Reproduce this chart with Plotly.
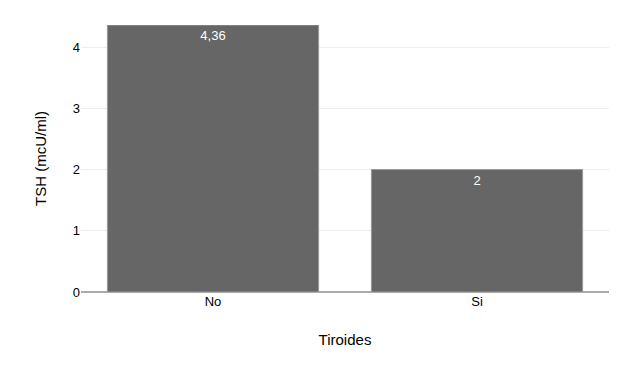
import plotly.graph_objects as go

categories = ["No", "Si"]
values = [4.36, 2]
labels = ["4,36", "2"]

fig = go.Figure(go.Bar(
    x=categories, y=values, text=labels,
    textposition="inside", insidetextanchor="end",
    textfont=dict(color="white", size=13, family="Liberation Sans, Arial"),
    marker=dict(color="#666666", line=dict(color="#9a9a9a", width=1)),
    width=0.8, hoverinfo="skip",
))
fig.update_layout(
    width=637, height=370,
    margin=dict(l=81, r=28, t=25, b=78),
    plot_bgcolor="white", paper_bgcolor="white",
    font=dict(family="Liberation Sans, Arial", color="#000000", size=13),
    showlegend=False,
    separators=",.",
    xaxis=dict(
        title=dict(text="Tiroides", font=dict(size=15), standoff=26),
        showgrid=False, ticks="", showline=False,
    ),
    yaxis=dict(
        title=dict(text="TSH (mcU/ml)", font=dict(size=15), standoff=22),
        range=[0, 4.36], tickvals=[0, 1, 2, 3, 4],
        showgrid=True, gridcolor="#eeeeee", gridwidth=1,
        zeroline=True, zerolinecolor="#aaaaaa", zerolinewidth=2,
        ticks="", showline=False,
    ),
)
fig.write_html("out.html")
